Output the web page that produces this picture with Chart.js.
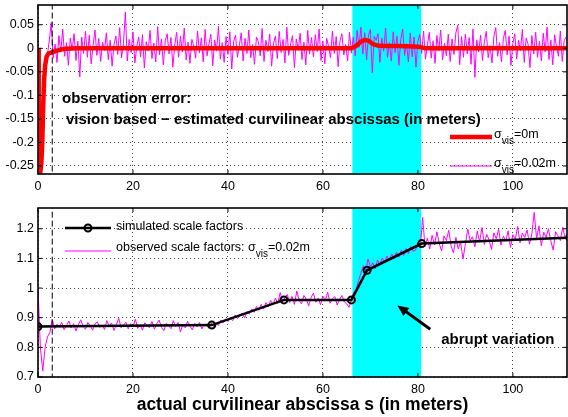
<!DOCTYPE html>
<html>
<head>
<meta charset="utf-8">
<script src="https://cdn.jsdelivr.net/npm/chart.js@4.4.0/dist/chart.umd.min.js"></script>
<style>
body { margin: 0; background: #fff; }
#wrap { position: relative; width: 568px; height: 417px; }
#c1 { position: absolute; left: 0; top: 0; }
#c2 { position: absolute; left: 0; top: 195px; }
</style>
</head>
<body>
<div id="wrap">
<canvas id="c1" width="568" height="195"></canvas>
<canvas id="c2" width="568" height="222"></canvas>
</div>
<script>
// top plot: observation error, sampled every errStep meters
const errStep = 0.4;
const errNoisy = [
  0.002, -0.262, -0.23, -0.1, -0.03, -0.012,
  0.018, 0.055, -0.021, 0.009, -0.030, 0.027, -0.008, 0.041, -0.017, 0.012, -0.036, 0.022, -0.004, 0.031, -0.026, 0.015, -0.061, 0.024, -0.011, 0.036,
  -0.019, 0.028, -0.033, 0.006, 0.039, -0.015, 0.021, -0.028, 0.013, -0.005, 0.033, -0.024, 0.017, -0.038, 0.008, 0.026, -0.013, 0.044, -0.020, 0.010,
  0.077, -0.027, 0.019, -0.009, 0.035, -0.031, 0.004, 0.024, -0.018, 0.029, -0.042, 0.014, -0.006, 0.038, -0.022, 0.011, -0.029, 0.046, -0.014, 0.020,
  -0.035, 0.016, 0.031, -0.012, 0.023, -0.040, 0.007, 0.034, -0.019, 0.026, -0.008, 0.043, -0.025, 0.013, -0.032, 0.019, 0.005, -0.021, 0.037, -0.010,
  0.022, -0.029, 0.040, -0.016, 0.009, 0.030, -0.037, 0.018, -0.006, 0.047, -0.023, 0.012, -0.030, 0.025, -0.013, 0.035, -0.044, 0.015, 0.028, -0.019,
  0.006, 0.033, -0.027, 0.021, -0.011, 0.039, -0.020, 0.008, -0.034, 0.024, 0.014, -0.016, 0.042, -0.028, 0.017, -0.007, 0.030, -0.038, 0.011, 0.026,
  -0.022, 0.036, -0.009, 0.019, -0.031, 0.045, -0.015, 0.010, 0.027, -0.041, 0.020, -0.004, 0.032, -0.024, 0.013, -0.035, 0.038, -0.012, 0.023, -0.018,
  0.029, -0.007, 0.041, -0.026, 0.015, -0.033, 0.021, 0.004, -0.020, 0.037, -0.011, 0.025, -0.039, 0.016, 0.031, -0.014, 0.008, -0.027, 0.034, -0.010,
  0.024, -0.016, 0.038, 0.002, 0.045, -0.012, 0.033, -0.024, 0.028, 0.040, -0.052, 0.025, 0.017, 0.031, -0.030, 0.022, -0.006, 0.043, -0.019, 0.012,
  -0.027, 0.035, -0.009, 0.026, -0.036, 0.019, 0.041, -0.015, 0.010, -0.029, 0.032, -0.018, 0.024, -0.040, 0.014, 0.029, -0.011, 0.037, -0.023, 0.007,
  0.034, -0.021, 0.016, -0.032, 0.027, -0.006, 0.039, -0.025, 0.011, -0.016, 0.030, -0.028, 0.020, -0.013, 0.033, 0.049, -0.035, 0.025, -0.019, 0.030,
  -0.012, 0.023, -0.034, 0.041, -0.062, 0.018, -0.008, 0.028, -0.026, 0.014, 0.036, -0.020, 0.006, -0.031, 0.024, 0.044, -0.017, 0.012, -0.029, 0.021,
  0.038, -0.014, 0.026, -0.036, 0.010, 0.031, -0.023, 0.017, -0.005, 0.040, -0.030, 0.022, 0.009, -0.041, 0.027, -0.012, 0.034, -0.019, 0.015, -0.027,
  0.032, -0.008, 0.045, -0.024, 0.018, -0.035, 0.029, 0.003, -0.017, 0.037, -0.028, 0.016, 0.024
];
const errCleanS = [0, 0.1, 0.2, 0.35, 0.5, 0.7, 0.9, 1.1, 1.3, 1.5, 1.8, 2.2, 3, 4, 5, 6, 8, 66, 67, 68, 68.8, 69.6, 70.5, 71.5, 73, 76, 79, 80.5, 81.5, 111.4];
const errClean  = [0, -0.08, -0.2, -0.262, -0.262, -0.245, -0.2, -0.12, -0.065, -0.037, -0.018, -0.011, -0.008, -0.005, -0.002, -0.001, 0, 0, 0.005, 0.014, 0.018, 0.016, 0.009, 0.006, 0.005, 0.005, 0.004, 0.003, 0, 0];
const errTicks = [-0.25, -0.2, -0.15, -0.1, -0.05, 0, 0.05];

// bottom plot: scale factors, observed sampled every scaleStep meters
const scaleStep = 0.5;
const scaleObserved = [
  1.0, 0.80, 0.72, 0.80, 0.835, 0.85, 0.895,
  0.862, 0.878, 0.868, 0.884, 0.859, 0.873, 0.889, 0.866, 0.880, 0.855, 0.876, 0.893, 0.870, 0.861, 0.884, 0.872, 0.858, 0.879, 0.886, 0.867,
  0.875, 0.860, 0.890, 0.871, 0.882, 0.857, 0.877, 0.898, 0.866, 0.874, 0.885, 0.862, 0.880, 0.869, 0.895, 0.864, 0.876, 0.858, 0.883, 0.873,
  0.866, 0.887, 0.861, 0.879, 0.892, 0.868, 0.856, 0.881, 0.874, 0.863, 0.890, 0.870, 0.884, 0.852, 0.876, 0.866, 0.888, 0.871, 0.859, 0.880,
  0.869, 0.884, 0.862, 0.877, 0.872, 0.865, 0.881, 0.870,
  0.880, 0.874, 0.892, 0.883, 0.896, 0.887, 0.901, 0.890, 0.909, 0.897, 0.905, 0.916, 0.899, 0.921, 0.912, 0.930, 0.918, 0.938, 0.925, 0.945,
  0.929, 0.951, 0.937, 0.958, 0.944, 0.966, 0.948, 0.985, 0.953, 0.968,
  0.978, 0.951, 0.972, 0.945, 0.990, 0.958, 0.947, 0.975, 0.962, 0.940, 0.968, 0.983, 0.952, 0.966, 0.944, 0.973, 0.957, 0.986, 0.949, 0.964,
  0.971, 0.943, 0.961, 0.975, 0.953, 0.947, 0.935, 0.960,
  0.985, 0.995, 1.025, 1.050, 1.075, 1.058,
  1.098, 1.072, 1.085, 1.066, 1.094, 1.080, 1.101, 1.087, 1.108, 1.092, 1.115, 1.099, 1.121, 1.104, 1.128, 1.110, 1.133, 1.116, 1.140, 1.124,
  1.128, 1.152, 1.135, 1.238,
  1.140, 1.168, 1.132, 1.178, 1.145, 1.190, 1.150, 1.125, 1.176, 1.160, 1.195, 1.142, 1.118, 1.171, 1.132, 1.155, 1.098, 1.148, 1.199, 1.160,
  1.173, 1.139, 1.192, 1.156, 1.204, 1.147, 1.181, 1.162, 1.130, 1.186, 1.166, 1.198, 1.145, 1.175, 1.158, 1.193, 1.137, 1.180, 1.163, 1.208,
  1.152, 1.186, 1.170, 1.196, 1.148, 1.183, 1.255, 1.165, 1.210, 1.142, 1.188, 1.171, 1.200, 1.158, 1.128, 1.190, 1.176, 1.160, 1.205, 1.168,
  1.187
];
const simS = [0, 36.6, 51.8, 66, 69.3, 80.8, 112];
const simScale = [0.87, 0.875, 0.96, 0.96, 1.06, 1.15, 1.17];
const scaleTicks = [0.7, 0.8, 0.9, 1, 1.1, 1.2];

const sTicks = [0, 20, 40, 60, 80, 100];
const abruptZone = [66.2, 80.7];
const startLineS = 3;

Chart.defaults.font.family = "'Liberation Sans', Arial, sans-serif";
Chart.defaults.font.size = 12.5;
Chart.defaults.color = '#000';

const FONT = "'Liberation Sans', Arial, sans-serif";

function sigmaText(ctx, x, y, before, after) {
  ctx.textAlign = 'left';
  ctx.textBaseline = 'middle';
  ctx.font = '12.5px ' + FONT;
  ctx.fillText(before + 'σ', x, y);
  let w = ctx.measureText(before + 'σ').width;
  ctx.font = '10px ' + FONT;
  ctx.fillText('vis', x + w, y + 6);
  w += ctx.measureText('vis').width;
  ctx.font = '12.5px ' + FONT;
  ctx.fillText(after, x + w, y);
}

// no extra room for half-labels at the ends of the axes
function noEndPadding(s) {
  s.paddingTop = 0; s.paddingBottom = 0; s.paddingLeft = 0; s.paddingRight = 0;
}

const frame = {
  id: 'frame',
  beforeDatasetsDraw(chart) {
    const {ctx, chartArea: a, scales: {x}} = chart;
    const x0 = x.getPixelForValue(abruptZone[0]);
    const x1 = x.getPixelForValue(abruptZone[1]);
    ctx.save();
    ctx.fillStyle = '#00ffff';
    ctx.fillRect(x0, a.top, x1 - x0, a.bottom - a.top);
    ctx.restore();
  },
  afterDatasetsDraw(chart) {
    const {ctx, chartArea: a, scales: {x, y}} = chart;
    ctx.save();
    ctx.strokeStyle = '#000';
    ctx.lineWidth = 1;
    ctx.beginPath();
    x.ticks.forEach(t => {
      const px = x.getPixelForValue(t.value);
      ctx.moveTo(px, a.bottom); ctx.lineTo(px, a.bottom - 4);
      ctx.moveTo(px, a.top); ctx.lineTo(px, a.top + 4);
    });
    y.ticks.forEach(t => {
      const py = y.getPixelForValue(t.value);
      ctx.moveTo(a.left, py); ctx.lineTo(a.left + 4, py);
      ctx.moveTo(a.right, py); ctx.lineTo(a.right - 4, py);
    });
    ctx.stroke();
    ctx.lineWidth = 1.6;
    ctx.strokeRect(a.left, a.top, a.right - a.left, a.bottom - a.top);
    ctx.restore();
  }
};

function axisX(height, withTitle) {
  return {
    type: 'linear', min: 0, max: 111.4,
    afterBuildTicks: s => { s.ticks = sTicks.map(v => ({value: v})); },
    afterFit: s => { s.height = height; noEndPadding(s); },
    grid: { color: '#444', lineWidth: 1, drawTicks: false },
    border: { display: false, dash: [1, 3] },
    ticks: { padding: 5, maxRotation: 0 },
    title: withTitle ? {
      display: true,
      text: 'actual curvilinear abscissa s (in meters)',
      font: { size: 17.5, weight: 'bold' },
      padding: { top: 0, bottom: 1 }
    } : { display: false }
  };
}

function axisY(min, max, tickList) {
  return {
    type: 'linear', min: min, max: max,
    afterBuildTicks: s => { s.ticks = tickList.map(v => ({value: v})); },
    afterFit: s => { s.width = 38; noEndPadding(s); },
    grid: { color: '#444', lineWidth: 1, drawTicks: false },
    border: { display: false, dash: [1, 3] },
    ticks: { padding: 4, callback: v => String(+v.toFixed(2)) }
  };
}

// top chart
const errTexts = {
  id: 'errTexts',
  afterDraw(chart) {
    const ctx = chart.ctx;
    ctx.save();
    ctx.fillStyle = '#000';
    ctx.textAlign = 'left';
    ctx.textBaseline = 'middle';
    ctx.font = 'bold 15px ' + FONT;
    ctx.fillText('observation error:', 62, 99);
    ctx.fillText('vision based − estimated curvilinear abscissas (in meters)', 66, 120);
    // legend
    ctx.strokeStyle = '#ff0000';
    ctx.lineWidth = 4.5;
    ctx.beginPath(); ctx.moveTo(450, 137); ctx.lineTo(492, 137); ctx.stroke();
    ctx.strokeStyle = '#ff00ff';
    ctx.lineWidth = 1;
    ctx.beginPath(); ctx.moveTo(450, 166); ctx.lineTo(492, 166); ctx.stroke();
    sigmaText(ctx, 494, 135, '', '=0m');
    sigmaText(ctx, 494, 164, '', '=0.02m');
    ctx.restore();
  }
};

new Chart(document.getElementById('c1'), {
  type: 'line',
  data: {
    datasets: [
      {
        data: [{x: startLineS, y: -0.3}, {x: startLineS, y: 0.2}],
        borderColor: '#000', borderWidth: 1, borderDash: [6, 3], pointRadius: 0
      },
      {
        label: 'σvis=0m',
        data: errCleanS.map((s, i) => ({x: s, y: errClean[i]})),
        borderColor: '#ff0000', borderWidth: 4.5, pointRadius: 0
      },
      {
        label: 'σvis=0.02m',
        data: errNoisy.map((v, i) => ({x: i * errStep, y: v})),
        borderColor: '#ff00ff', borderWidth: 1, pointRadius: 0
      }
    ]
  },
  options: {
    responsive: false,
    animation: false,
    layout: { autoPadding: false, padding: { top: 5, right: 1, left: 0, bottom: 0 } },
    plugins: { legend: { display: false }, tooltip: { enabled: false } },
    scales: {
      x: axisX(21, false),
      y: axisY(-0.267, 0.092, errTicks)
    }
  },
  plugins: [frame, errTexts]
});

// bottom chart
const arrowTail = {x: 82.6, y: 0.861};
const arrowTip = {x: 75.7, y: 0.941};
const arrowLabel = {x: 84.9, y: 0.825};

const scaleTexts = {
  id: 'scaleTexts',
  afterDraw(chart) {
    const {ctx, scales: {x, y}} = chart;
    ctx.save();
    // arrow
    const tx = x.getPixelForValue(arrowTail.x), ty = y.getPixelForValue(arrowTail.y);
    const hx = x.getPixelForValue(arrowTip.x), hy = y.getPixelForValue(arrowTip.y);
    const ang = Math.atan2(hy - ty, hx - tx);
    ctx.strokeStyle = '#000';
    ctx.fillStyle = '#000';
    ctx.lineWidth = 3;
    ctx.beginPath();
    ctx.moveTo(tx, ty);
    ctx.lineTo(hx - 7 * Math.cos(ang), hy - 7 * Math.sin(ang));
    ctx.stroke();
    ctx.beginPath();
    ctx.moveTo(hx, hy);
    ctx.lineTo(hx - 11 * Math.cos(ang) + 5 * Math.sin(ang), hy - 11 * Math.sin(ang) - 5 * Math.cos(ang));
    ctx.lineTo(hx - 11 * Math.cos(ang) - 5 * Math.sin(ang), hy - 11 * Math.sin(ang) + 5 * Math.cos(ang));
    ctx.closePath();
    ctx.fill();
    ctx.textAlign = 'left';
    ctx.textBaseline = 'middle';
    ctx.font = 'bold 15px ' + FONT;
    ctx.fillText('abrupt variation', x.getPixelForValue(arrowLabel.x), y.getPixelForValue(arrowLabel.y));
    // legend
    ctx.lineWidth = 2.5;
    ctx.beginPath(); ctx.moveTo(65, 33); ctx.lineTo(111, 33); ctx.stroke();
    ctx.lineWidth = 2;
    ctx.beginPath(); ctx.arc(88, 33, 3.5, 0, Math.PI * 2); ctx.stroke();
    ctx.strokeStyle = '#ff00ff';
    ctx.lineWidth = 1;
    ctx.beginPath(); ctx.moveTo(65, 56); ctx.lineTo(111, 56); ctx.stroke();
    ctx.font = '12.5px ' + FONT;
    ctx.fillText('simulated scale factors', 116, 32);
    sigmaText(ctx, 116, 53, 'observed scale factors: ', '=0.02m');
    ctx.restore();
  }
};

new Chart(document.getElementById('c2'), {
  type: 'line',
  data: {
    datasets: [
      {
        data: [{x: startLineS, y: 0.6}, {x: startLineS, y: 1.4}],
        borderColor: '#000', borderWidth: 1, borderDash: [6, 3], pointRadius: 0
      },
      {
        label: 'simulated scale factors',
        data: simS.map((s, i) => ({x: s, y: simScale[i]})),
        borderColor: '#000', borderWidth: 2.5,
        pointRadius: 3.5, pointBorderWidth: 2,
        pointBorderColor: '#000', pointBackgroundColor: 'rgba(0,0,0,0)'
      },
      {
        label: 'observed scale factors: σvis=0.02m',
        data: scaleObserved.map((v, i) => ({x: i * scaleStep, y: v})),
        borderColor: '#ff00ff', borderWidth: 1, pointRadius: 0
      }
    ]
  },
  options: {
    responsive: false,
    animation: false,
    layout: { autoPadding: false, padding: { top: 13, right: 1, left: 0, bottom: 0 } },
    plugins: { legend: { display: false }, tooltip: { enabled: false } },
    scales: {
      x: axisX(40, true),
      y: axisY(0.7, 1.27, scaleTicks)
    }
  },
  plugins: [frame, scaleTexts]
});
</script>
</body>
</html>
